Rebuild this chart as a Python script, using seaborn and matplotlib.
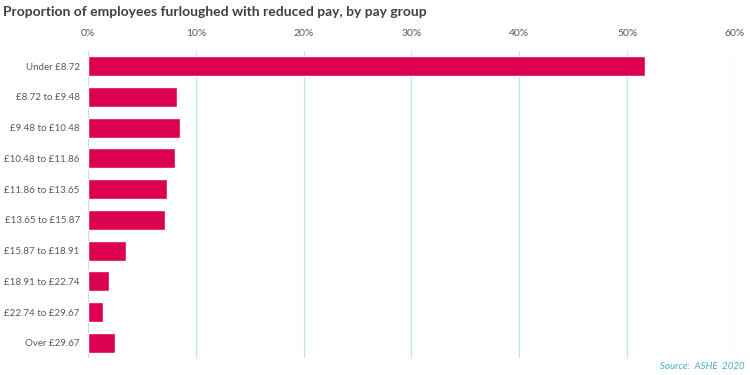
import matplotlib
matplotlib.use("Agg")
import matplotlib.pyplot as plt
import seaborn as sns
import pandas as pd

categories = ["Under £8.72", "£8.72 to £9.48", "£9.48 to £10.48", "£10.48 to £11.86",
              "£11.86 to £13.65", "£13.65 to £15.87", "£15.87 to £18.91",
              "£18.91 to £22.74", "£22.74 to £29.67", "Over £29.67"]
values = [51.7, 8.3, 8.5, 8.1, 7.3, 7.1, 3.5, 1.95, 1.4, 2.5]
xticks = [0, 10, 20, 30, 40, 50, 60]
xtick_labels = ["0%", "10%", "20%", "30%", "40%", "50%", "60%"]

sns.set_theme(style="white")
plt.rcParams['font.family'] = ['Lato', 'DejaVu Sans']

df = pd.DataFrame({"group": categories, "pct": values})

fig = plt.figure(figsize=(7.5, 3.75), dpi=100)
ax = fig.add_axes([0.1173, 0.0443, 0.98 - 0.1173, 0.865 - 0.0443])

sns.barplot(data=df, x="pct", y="group", orient="h", color="#DC0050",
            width=0.65, saturation=1, ax=ax, zorder=3)

ax.set_xlim(0, 60)
ax.set_ylim(9.5, -0.5)
ax.set_xticks(xticks)
ax.set_xticklabels(xtick_labels)
ax.xaxis.tick_top()
ax.tick_params(axis="x", length=0, pad=9, labelsize=7.5, labelcolor="#595959")
ax.tick_params(axis="y", length=0, pad=6, labelsize=7, labelcolor="#595959")
ax.set_xlabel("")
ax.set_ylabel("")
for s in ax.spines.values():
    s.set_visible(False)
for xv in xticks[1:]:
    ax.axvline(xv, color="#BFE4EC", linewidth=0.9, zorder=1)
ax.axvline(0, color="#D9D9D9", linewidth=0.9, zorder=1)

fig.text(0.004, 0.968, "Proportion of employees furloughed with reduced pay, by pay group",
         fontsize=10, fontweight="bold", color="#404040", ha="left", va="center")
fig.text(0.993, 0.022, "Source:  ASHE  2020", fontsize=7, fontstyle="italic",
         color="#4BACC6", ha="right", va="center")

fig.savefig("out.png", dpi=100)
